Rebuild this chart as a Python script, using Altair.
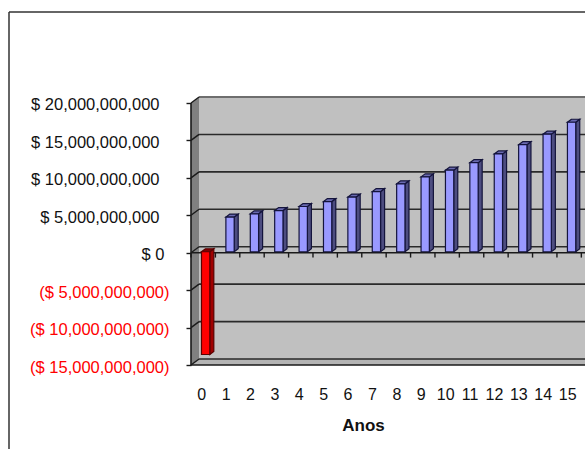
import altair as alt
import pandas as pd

# Investment cash flow per year, in dollars
years = list(range(16))
flows = [-13.73e9, 4.63e9, 5.07e9, 5.5e9, 6.04e9, 6.7e9, 7.3e9, 8.04e9,
         9.07e9, 10.0e9, 10.9e9, 11.9e9, 13.07e9, 14.3e9, 15.7e9, 17.3e9]
y_ticks = [-15e9, -10e9, -5e9, 0, 5e9, 10e9, 15e9, 20e9]

# Scale domains and the 3-D extrusion, all in data units
X_MIN, X_MAX = -0.5, 15.65
Y_MIN, Y_MAX = -15e9, 20.8e9
WALL_DX, WALL_DY = 0.33, 0.8e9
BAR_DX, BAR_DY = 0.165, 0.4e9
BAR_LEFT, BAR_RIGHT = -0.07, 0.27
BAR_BASE = 0.13e9

x_scale = alt.Scale(domain=[X_MIN, X_MAX], nice=False, zero=False)
y_scale = alt.Scale(domain=[Y_MIN, Y_MAX], nice=False, zero=False)

# Real axes carry the tick labels and the title
label_expr = ("datum.value < 0 ? '($ ' + format(-datum.value, ',') + ')' : "
              "'$ ' + format(datum.value, ',')")
# Currency format: positive figures sit inside the width of the closing parenthesis
label_padding = {"condition": [{"test": "datum.value < 0", "value": 17},
                               {"test": "datum.value === 0", "value": 22}],
                 "value": 27}
x_axis = alt.Axis(values=years, format="d", grid=False, domain=False, ticks=False,
                  labelPadding=21, labelFontSize=16, labelFont="Liberation Sans",
                  labelColor="#111111", labelFlush=False, labelOverlap=False, labelOffset=-2,
                  titleFont="Liberation Sans", titleFontSize=17, titleFontWeight="bold",
                  titleColor="#111111", titleX=172, titleY=65, titleBaseline="alphabetic")
y_axis = alt.Axis(values=y_ticks, grid=False, domain=False, tickSize=5,
                  tickColor="#1a1a1a", tickWidth=1.4, labelPadding=label_padding,
                  labelFontSize=16.5, labelFont="Liberation Sans", labelOffset=2,
                  labelExpr=label_expr, labelOverlap=False, labelFlush=False,
                  labelColor=alt.condition("datum.value < 0", alt.value("#ff0000"),
                                           alt.value("#111111")))

X = lambda f="x": alt.X(f"{f}:Q", scale=x_scale, axis=x_axis, title="Anos")
Y = lambda f="y": alt.Y(f"{f}:Q", scale=y_scale, axis=y_axis, title=None)

# Solid faces
def rect(df, fill, **kw):
    return alt.Chart(pd.DataFrame(df)).mark_rect(fill=fill, **kw).encode(
        x=X("x"), x2="x2:Q", y=Y("y"), y2="y2:Q")

def vertical_face(rows, fill, **kw):
    return alt.Chart(pd.DataFrame(rows)).mark_area(fill=fill, **kw).encode(
        x=X("x"), y=Y("y"), y2="y2:Q", detail="id:N")

def horizontal_face(rows, fill, **kw):
    return alt.Chart(pd.DataFrame(rows)).mark_area(
        orient="horizontal", fill=fill, **kw
    ).encode(y=Y("y"), x=X("x"), x2="x2:Q", detail="id:N")

def line(rows, color, width):
    return alt.Chart(pd.DataFrame(rows)).mark_line(
        color=color, strokeWidth=width
    ).encode(x=X("x"), y=Y("y"), detail="id:N")

back_wall = rect([{"x": X_MIN + WALL_DX, "x2": X_MAX,
                   "y": Y_MIN + WALL_DY, "y2": Y_MAX}], "#c0c0c0")
left_wall = vertical_face(
    [{"id": 0, "x": X_MIN, "y": Y_MIN, "y2": Y_MAX - WALL_DY},
     {"id": 0, "x": X_MIN + WALL_DX, "y": Y_MIN + WALL_DY, "y2": Y_MAX}],
    "#808080")
floor = horizontal_face(
    [{"id": 0, "y": Y_MIN, "x": X_MIN, "x2": X_MAX},
     {"id": 0, "y": Y_MIN + WALL_DY, "x": X_MIN + WALL_DX, "x2": X_MAX}],
    "#b4b4b4")

# Gridlines run along the back wall and fold down the left wall
back_rows, fold_rows = [], []
for t in y_ticks:
    if t > Y_MIN:
        for xv in (X_MIN + WALL_DX, X_MAX):
            back_rows.append({"id": t, "x": xv, "y": t + WALL_DY})
    fold_rows += [{"id": t, "x": X_MIN, "y": t},
                  {"id": t, "x": X_MIN + WALL_DX, "y": t + WALL_DY}]
back_rows += [{"id": "floor", "x": X_MIN + WALL_DX, "y": Y_MIN + WALL_DY},
              {"id": "floor", "x": X_MAX, "y": Y_MIN + WALL_DY}]
grid = line(back_rows, "#2a2a2a", 1.6)
folds = line(fold_rows, "#1a1a1a", 1.4)
front_edges = line(
    [{"id": "zero", "x": X_MIN, "y": 0}, {"id": "zero", "x": X_MAX, "y": 0},
     {"id": "base", "x": X_MIN, "y": Y_MIN}, {"id": "base", "x": X_MAX, "y": Y_MIN},
     {"id": "axis", "x": X_MIN, "y": Y_MIN}, {"id": "axis", "x": X_MIN, "y": Y_MAX - WALL_DY}],
    "#1a1a1a", 1.6)
cap_edge = line(
    [{"id": "cap", "x": X_MIN + WALL_DX, "y": Y_MAX},
     {"id": "cap", "x": X_MAX, "y": Y_MAX}], "#6e6e6e", 2)

# Category tick marks below the zero line
tick_edges = pd.DataFrame({"x": [k - 0.5 for k in range(17)], "y": 0.0, "y2": -0.65e9})
x_tick_marks = alt.Chart(tick_edges).mark_rule(color="#1a1a1a", strokeWidth=1.4).encode(
    x=X("x"), y=Y("y"), y2="y2:Q")

# Extruded bars: side, top and front faces
def bar_layers(ids, fill, side, top, edge):
    side_rows, top_rows, front_rows = [], [], []
    for k in ids:
        v = flows[k]
        hi, lo = max(BAR_BASE, BAR_BASE + v), min(BAR_BASE, BAR_BASE + v)
        xl, xr = k + BAR_LEFT, k + BAR_RIGHT
        side_rows += [{"id": k, "x": xr, "y": lo, "y2": hi},
                      {"id": k, "x": xr + BAR_DX, "y": lo + BAR_DY, "y2": hi + BAR_DY}]
        top_rows += [{"id": k, "y": hi, "x": xl, "x2": xr},
                     {"id": k, "y": hi + BAR_DY, "x": xl + BAR_DX, "x2": xr + BAR_DX}]
        front_rows.append({"x": xl, "x2": xr, "y": lo, "y2": hi})
    style = dict(stroke=edge, strokeWidth=1.2)
    return [vertical_face(side_rows, side, **style),
            horizontal_face(top_rows, top, **style),
            rect(front_rows, fill, **style)]

blue_bars = bar_layers(years[1:], "#9999ff", "#4d4d80", "#6a6ab0", "#14143c")
red_bars = bar_layers(years[:1], "#ff0000", "#a00000", "#800000", "#5a0000")

# Outer chart frame, positioned relative to the plot area
frame_top = alt.Chart(pd.DataFrame({"a": [0]})).mark_rule(color="#333333", strokeWidth=1.5).encode(
    x=alt.value(-182), x2=alt.value(394), y=alt.value(-85))
frame_left = alt.Chart(pd.DataFrame({"a": [0]})).mark_rule(color="#333333", strokeWidth=1.5).encode(
    x=alt.value(-182), y=alt.value(-85), y2=alt.value(352))

chart = alt.layer(
    back_wall, left_wall, floor, grid, cap_edge, folds, x_tick_marks, front_edges,
    *blue_bars, *red_bars, frame_top, frame_left,
).properties(
    width=394, height=268,
    padding={"left": 191, "top": 97, "right": 0, "bottom": 84},
    autosize=alt.AutoSizeParams(type="none"),
    background="white",
).configure_view(stroke=None)

chart.save("out.html", embed_options={"renderer": "svg", "actions": False})
